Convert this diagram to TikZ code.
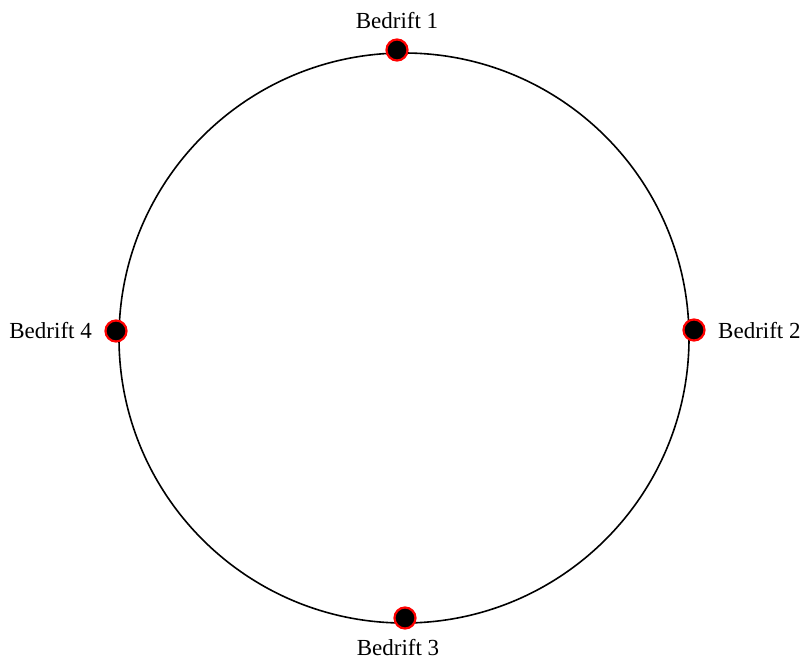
\documentclass[tikz,border=0pt]{standalone}
\usepackage{fontspec}
\setmainfont{Liberation Serif}
\begin{document}
\begin{tikzpicture}[x=1pt,y=-1pt,
  firm/.style={circle,fill=black,draw=red,line width=2.2pt,minimum size=21pt,inner sep=0pt},
  lbl/.style={font=\fontsize{23}{26}\selectfont,inner sep=0pt}]
\useasboundingbox (0,0) rectangle (802,661);
\draw[line width=1.6pt] (404,338) circle[radius=285];
\node[firm] (b1) at (397,50) {};
\node[firm] (b2) at (694,330) {};
\node[firm] (b3) at (405,618) {};
\node[firm] (b4) at (116,331) {};
\node[lbl,anchor=base] (l1) at (397,29) {Bedrift 1};
\node[lbl,anchor=west] (l2) at (718,331) {Bedrift 2};
\node[lbl,anchor=base] (l3) at (398,655) {Bedrift 3};
\node[lbl,anchor=east] (l4) at (92,331) {Bedrift 4};
\end{tikzpicture}
\end{document}
